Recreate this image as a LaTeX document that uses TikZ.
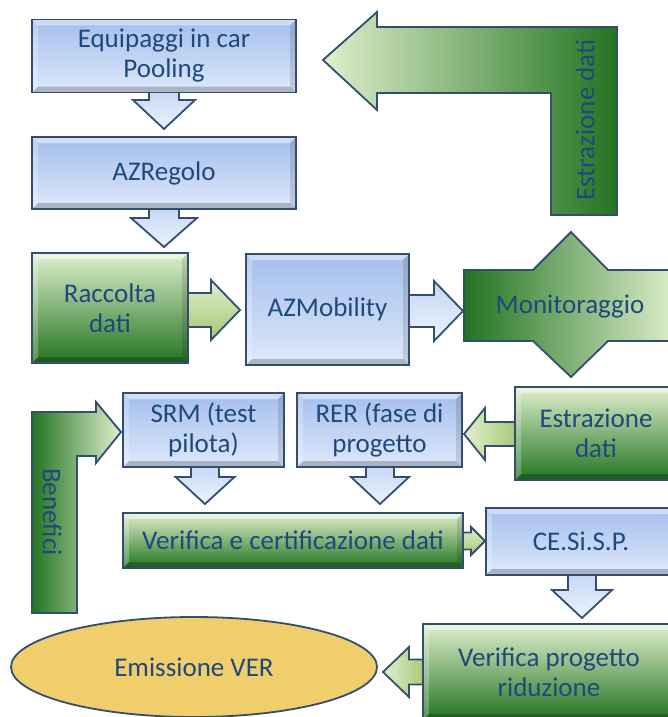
\documentclass[tikz,border=0pt]{standalone}
\usepackage{fontspec}
\setmainfont{Carlito}
\usetikzlibrary{shapes.geometric}
\definecolor{bord}{RGB}{52,78,112}
\definecolor{txt}{RGB}{31,73,125}
\definecolor{blueT}{RGB}{164,190,236}
\definecolor{blueB}{RGB}{222,233,251}
\definecolor{arrT}{RGB}{196,214,243}
\definecolor{arrB}{RGB}{236,243,253}
\definecolor{grL}{RGB}{224,239,204}
\definecolor{grM}{RGB}{164,198,116}
\definecolor{grD}{RGB}{34,116,34}
\definecolor{goldA}{RGB}{240,206,108}
\definecolor{goldB}{RGB}{253,240,180}
\newcommand\blkdown[7]{\draw[#1] ({#2-#6},#3) -- ({#2+#6},#3) -- ({#2+#6},#4) -- ({#2+#7},#4) -- (#2,#5) -- ({#2-#7},#4) -- ({#2-#6},#4) -- cycle;}
\newcommand\blkhor[7]{\draw[#1] (#3,{#2-#6}) -- (#4,{#2-#6}) -- (#4,{#2-#7}) -- (#5,#2) -- (#4,{#2+#7}) -- (#4,{#2+#6}) -- (#3,{#2+#6}) -- cycle;}
\begin{document}
\begin{tikzpicture}[x=1pt,y=-1pt,
  outl/.style={draw=bord,line width=1.8pt,line join=miter},
  lbl/.style={text=txt,font=\fontsize{27}{30}\selectfont,align=center,inner sep=0pt},
  bevel/.style={path picture={
    \fill[white,opacity=.45] (path picture bounding box.north west) -- (path picture bounding box.north east)
      -- ([xshift=-6pt,yshift=-6pt]path picture bounding box.north east) -- ([xshift=6pt,yshift=-6pt]path picture bounding box.north west) -- cycle;
    \fill[white,opacity=.25] (path picture bounding box.north west) -- ([xshift=6pt,yshift=-6pt]path picture bounding box.north west)
      -- ([xshift=6pt,yshift=6pt]path picture bounding box.south west) -- (path picture bounding box.south west) -- cycle;
    \fill[black,opacity=.22] (path picture bounding box.south west) -- (path picture bounding box.south east)
      -- ([xshift=-6pt,yshift=6pt]path picture bounding box.south east) -- ([xshift=6pt,yshift=6pt]path picture bounding box.south west) -- cycle;
    \fill[black,opacity=.12] (path picture bounding box.north east) -- ([xshift=-6pt,yshift=-6pt]path picture bounding box.north east)
      -- ([xshift=-6pt,yshift=6pt]path picture bounding box.south east) -- (path picture bounding box.south east) -- cycle;
  }},
  bluebox/.style={outl,lbl,top color=blueT,bottom color=blueB,bevel},
  greenbox/.style={outl,lbl,top color=grL,middle color=grM,bottom color=grD,bevel},
  bluearr/.style={outl,top color=arrT,bottom color=arrB},
  greenarr/.style={outl,top color=grL,bottom color=grM},
  greenarrh/.style={outl,left color=grL,right color=grM}]
\useasboundingbox (0,0) rectangle (668,717);
\clip (0,0) rectangle (668,717);

% block arrows (drawn first, behind boxes)
\blkdown{bluearr}{164}{88}{100}{129}{15}{31}
\blkdown{bluearr}{164}{205}{218}{247}{15}{33}
\blkhor{greenarr}{310}{182}{211}{240}{17}{30}
\blkhor{bluearr}{311}{404}{434}{463}{16}{30}
\blkhor{greenarrh}{434}{519}{485}{464}{12}{26}
\blkhor{greenarr}{541}{459}{471}{485}{8.5}{14}
\blkdown{bluearr}{205}{463}{477}{504}{14}{29.5}
\blkdown{bluearr}{380}{463}{477}{504}{14}{29}
\blkdown{bluearr}{582}{571}{590}{618}{14}{30}
\blkhor{greenarrh}{672}{426}{409}{383}{12.5}{25}

% L-shaped arrow "Estrazione dati" (top right)
\draw[outl,left color=grL,middle color=grM,right color=grD]
  (323,60) -- (377,12) -- (377,27) -- (617,27) -- (617,215) -- (551,215)
  -- (551,93) -- (377,93) -- (377,110) -- cycle;
\node[lbl,rotate=90] (estr1) at (585,120) {Estrazione dati};

% L-shaped arrow "Benefici" (left)
\draw[outl,left color=grD,middle color=grM,right color=grL]
  (32,613) -- (32,412) -- (96,412) -- (96,402) -- (121,432) -- (96,463)
  -- (96,456) -- (77,456) -- (77,613) -- cycle;
\node[lbl,rotate=-90] (benef) at (52,512) {Benefici};

% quad arrow "Monitoraggio"
\draw[outl,left color=grD,middle color=grM,right color=grL]
  (464,270) -- (533,270) -- (571,232) -- (608,270) -- (678,270) -- (678,341)
  -- (608,341) -- (571,377) -- (533,341) -- (464,341) -- cycle;
\node[lbl] (mon) at (570,307) {Monitoraggio};

% boxes
\node[bluebox,minimum width=264pt,minimum height=73pt] (eq) at (164,56) {Equipaggi in car\\Pooling};
\node[bluebox,minimum width=264pt,minimum height=72pt] (azr) at (164,173) {AZRegolo};
\node[greenbox,minimum width=156pt,minimum height=110pt] (rac) at (110,308) {Raccolta\\dati};
\node[bluebox,minimum width=163pt,minimum height=111pt] (azm) at (327.5,309.5) {AZMobility};
\node[bluebox,minimum width=161pt,minimum height=74pt] (srm) at (203.5,430) {SRM (test\\pilota)};
\node[bluebox,minimum width=165pt,minimum height=74pt] (rer) at (379.5,430) {RER (fase di\\progetto};
\node[greenbox,minimum width=162pt,minimum height=93pt] (est2) at (596,433.5) {Estrazione\\dati};
\node[greenbox,minimum width=340pt,minimum height=55pt] (ver) at (293,540.5) {Verifica e certificazione dati};
\node[bluebox,minimum width=190pt,minimum height=67pt] (ce) at (581,541.5) {CE.Si.S.P.};
\node[greenbox,minimum width=252pt,minimum height=96pt] (vpr) at (549,672) {Verifica progetto\\riduzione};
\node[ellipse,outl,lbl,top color=goldA,middle color=goldB,bottom color=goldA,minimum width=366pt,minimum height=100pt] (ver2) at (194,667) {Emissione VER};
\end{tikzpicture}
\end{document}
